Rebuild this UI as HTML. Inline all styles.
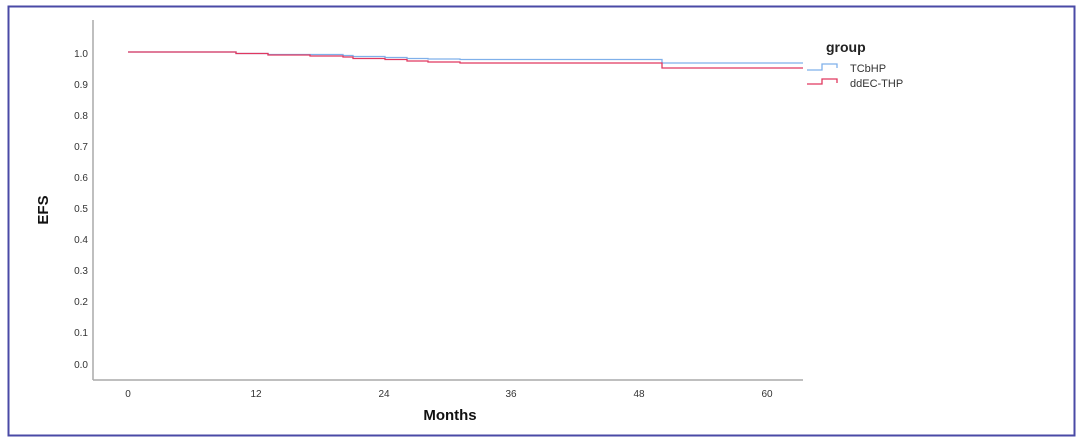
<!DOCTYPE html>
<html><head><style>
body{margin:0;background:#fff;}
svg{display:block;font-family:"Liberation Sans",Arial,sans-serif;}
</style></head><body>
<svg width="1080" height="445" viewBox="0 0 1080 445">
<rect x="8.5" y="6.5" width="1066" height="429" fill="#fff" stroke="#4a4aa6" stroke-width="2"/>
<line x1="93" y1="20" x2="93" y2="380" stroke="#aaa" stroke-width="1.5"/>
<line x1="93" y1="380" x2="803" y2="380" stroke="#aaa" stroke-width="1.5"/>
<g font-size="10" fill="#333" text-anchor="end">
<text x="88" y="57">1.0</text><text x="88" y="88">0.9</text><text x="88" y="119">0.8</text>
<text x="88" y="150">0.7</text><text x="88" y="181">0.6</text><text x="88" y="212">0.5</text>
<text x="88" y="243">0.4</text><text x="88" y="274">0.3</text><text x="88" y="305">0.2</text>
<text x="88" y="336">0.1</text><text x="88" y="368">0.0</text>
</g>
<g font-size="10" fill="#333" text-anchor="middle">
<text x="128" y="397">0</text><text x="256" y="397">12</text><text x="384" y="397">24</text>
<text x="511" y="397">36</text><text x="639" y="397">48</text><text x="767" y="397">60</text>
</g>
<text x="450" y="420" font-size="15" font-weight="bold" text-anchor="middle" fill="#111">Months</text>
<text x="48" y="210" font-size="15" font-weight="bold" text-anchor="middle" fill="#111" transform="rotate(-90 48 210)">EFS</text>
<polyline fill="none" stroke="#7fb0ea" stroke-width="1.3" points="128,52 236,52 236,53.5 268,53.5 268,54.5 343,54.5 343,55.5 353,55.5 353,56.5 385,56.5 385,57.5 407,57.5 407,58.5 428,58.5 428,59 460,59 460,59.5 662,59.5 662,63 803,63"/>
<polyline fill="none" stroke="#e0385f" stroke-width="1.3" points="128,52 236,52 236,53.5 268,53.5 268,55 310,55 310,56 343,56 343,57 353,57 353,58.5 385,58.5 385,59.5 407,59.5 407,61 428,61 428,62 460,62 460,63 662,63 662,68 803,68"/>
<text x="826" y="52" font-size="14" font-weight="bold" fill="#222">group</text>
<polyline fill="none" stroke="#7fb0ea" stroke-width="1.3" points="807,70 822,70 822,64 837,64 837,68"/>
<text x="850" y="72" font-size="11" fill="#333">TCbHP</text>
<polyline fill="none" stroke="#e0385f" stroke-width="1.3" points="807,84 822,84 822,79 837,79 837,83"/>
<text x="850" y="87" font-size="11" fill="#333">ddEC-THP</text>
</svg>
</body></html>
